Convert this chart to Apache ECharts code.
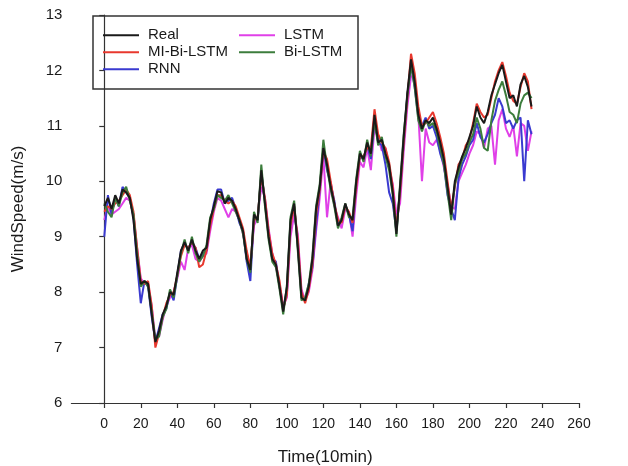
<!DOCTYPE html>
<html>
<head>
<meta charset="utf-8">
<script src="https://cdn.jsdelivr.net/npm/echarts@6/dist/echarts.min.js"></script>
<style>
html,body{margin:0;padding:0;background:#fff;}
#chart{width:628px;height:466px;}
</style>
</head>
<body>
<div id="chart"></div>
<script>
// Time steps (10 min units)
const time = [0,2,4,6,8,10,12,14,16,18,20,22,24,26,28,30,32,34,36,38,40,42,44,46,48,50,52,54,56,58,60,62,64,66,68,70,72,74,76,78,80,82,84,86,88,90,92,94,96,98,100,102,104,106,108,110,112,114,116,118,120,122,124,126,128,130,132,134,136,138,140,142,144,146,148,150,152,154,156,158,160,162,164,166,168,170,172,174,176,178,180,182,184,186,188,190,192,194,196,198,200,202,204,206,208,210,212,214,216,218,220,222,224,226,228,230,232,234];

const realVals = [9.55,9.70,9.50,9.75,9.60,9.85,9.80,9.70,9.30,8.60,8.15,8.20,8.15,7.60,7.10,7.30,7.60,7.75,8.00,7.95,8.35,8.75,8.90,8.75,8.95,8.75,8.60,8.75,8.80,9.30,9.55,9.82,9.80,9.60,9.70,9.65,9.50,9.30,9.10,8.60,8.40,9.40,9.30,10.20,9.60,9.00,8.60,8.50,8.10,7.65,8.10,9.30,9.60,8.80,7.90,7.85,8.10,8.60,9.50,9.90,10.60,10.30,9.90,9.60,9.20,9.30,9.60,9.40,9.30,10.00,10.50,10.40,10.70,10.50,11.20,10.70,10.75,10.50,10.30,9.80,9.05,9.90,10.80,11.60,12.20,11.80,11.20,10.95,11.10,11.05,11.15,10.95,10.70,10.40,9.90,9.40,10.00,10.25,10.45,10.60,10.80,11.00,11.35,11.15,11.05,11.25,11.55,11.75,11.95,12.10,11.80,11.50,11.55,11.35,11.75,11.90,11.70,11.35];

const miBiLstmVals = [9.45,9.55,9.50,9.60,9.65,9.75,9.85,9.75,9.45,8.80,8.20,8.15,8.20,7.75,7.00,7.25,7.55,7.80,7.95,8.00,8.30,8.65,8.85,8.80,8.90,8.80,8.45,8.50,8.75,9.20,9.50,9.75,9.75,9.65,9.60,9.65,9.55,9.35,9.15,8.75,8.45,9.30,9.35,10.10,9.70,9.10,8.70,8.50,8.20,7.70,7.95,9.20,9.55,8.95,8.00,7.80,8.05,8.50,9.40,9.85,10.55,10.40,10.00,9.60,9.30,9.25,9.55,9.45,9.25,9.90,10.45,10.45,10.60,10.60,11.30,10.85,10.70,10.60,10.35,9.90,9.15,9.80,10.70,11.50,12.30,11.95,11.35,11.00,11.05,11.15,11.25,11.05,10.80,10.50,10.00,9.50,9.90,10.30,10.40,10.65,10.75,11.05,11.40,11.25,11.15,11.20,11.50,11.80,12.00,12.15,11.90,11.60,11.45,11.40,11.70,11.95,11.80,11.30];

const rnnVals = [9.00,9.75,9.40,9.70,9.55,9.90,9.80,9.70,9.35,8.50,7.80,8.20,8.10,7.55,7.10,7.35,7.60,7.70,8.00,7.85,8.30,8.75,8.85,8.80,8.90,8.80,8.60,8.70,8.75,9.25,9.60,9.85,9.85,9.60,9.65,9.70,9.50,9.25,9.10,8.55,8.20,9.35,9.30,10.15,9.65,9.05,8.60,8.55,8.10,7.70,8.00,9.25,9.55,8.85,7.95,7.85,8.15,8.45,9.20,9.85,10.60,10.20,9.95,9.65,9.20,9.30,9.55,9.40,9.10,9.95,10.45,10.40,10.65,10.40,11.10,10.70,10.65,10.30,9.80,9.60,9.10,9.85,10.70,11.55,12.10,11.70,11.15,11.00,11.15,10.95,11.00,10.80,10.50,10.30,9.75,9.50,9.30,10.05,10.30,10.45,10.65,10.75,11.05,10.80,10.70,10.85,11.05,11.20,11.50,11.35,11.05,11.10,10.95,11.10,11.15,10.00,11.10,10.85];

const lstmVals = [9.30,9.55,9.40,9.45,9.50,9.60,9.70,9.65,9.40,8.80,8.25,8.15,8.15,7.75,7.15,7.20,7.50,7.75,7.90,8.00,8.25,8.55,8.40,8.80,8.85,8.60,8.55,8.65,8.70,9.10,9.45,9.70,9.65,9.50,9.35,9.50,9.45,9.30,9.05,8.70,8.45,9.20,9.35,9.90,9.70,9.15,8.70,8.45,8.15,7.75,7.90,9.00,9.40,9.05,8.05,7.85,8.00,8.40,9.10,9.70,10.45,9.35,10.00,9.55,9.35,9.15,9.50,9.45,9.00,9.75,10.35,10.25,10.60,10.20,10.95,10.80,10.55,10.60,10.25,9.95,9.40,9.60,10.55,11.35,11.90,11.85,11.20,10.00,10.95,10.70,10.65,10.75,10.55,10.25,9.95,9.55,9.50,10.00,10.15,10.30,10.50,10.65,10.90,10.85,10.60,10.95,11.00,10.30,11.10,11.30,10.95,10.80,11.00,10.45,11.05,11.00,10.55,10.90];

const biLstmVals = [9.60,9.45,9.35,9.70,9.55,9.80,9.90,9.65,9.40,8.70,8.10,8.20,8.10,7.65,7.15,7.20,7.55,7.70,8.05,7.90,8.30,8.70,8.95,8.70,9.00,8.70,8.55,8.65,8.85,9.35,9.50,9.75,9.70,9.65,9.75,9.60,9.45,9.30,9.05,8.60,8.35,9.45,9.25,10.30,9.55,8.95,8.55,8.45,8.05,7.60,8.10,9.35,9.65,8.75,7.85,7.90,8.15,8.65,9.55,9.95,10.75,10.25,9.85,9.55,9.15,9.35,9.60,9.35,9.35,10.05,10.55,10.35,10.75,10.45,11.10,10.65,10.80,10.45,10.20,9.75,9.00,9.95,10.85,11.55,12.10,11.70,11.10,10.90,11.10,11.00,11.05,10.90,10.60,10.30,9.80,9.30,9.95,10.15,10.40,10.50,10.70,10.85,11.15,10.95,10.60,10.55,11.10,11.45,11.65,11.80,11.55,11.25,11.20,11.05,11.40,11.55,11.60,11.50];

const xTicks = [0,20,40,60,80,100,120,140,160,180,200,220,240,260];

const colors = {'Real':'#1a1a1a','MI-Bi-LSTM':'#e8382e','RNN':'#3a3ad0','LSTM':'#e040e8','Bi-LSTM':'#3c7d3c'};
const seriesData = {'Real':realVals,'MI-Bi-LSTM':miBiLstmVals,'RNN':rnnVals,'LSTM':lstmVals,'Bi-LSTM':biLstmVals};
const drawOrder = ['LSTM','RNN','MI-Bi-LSTM','Bi-LSTM','Real'];
function pairs(vals){ return time.map((t,i)=>[t, vals[i]]); }

const FONT = "Arial, 'Liberation Sans', sans-serif";
const chart = echarts.init(document.getElementById('chart'), null, {renderer:'canvas'});
const legendText = {fontFamily:FONT, fontSize:15, color:'#1a1a1a', lineHeight:16.5, padding:[0,0,0,4]};
chart.setOption({
  animation:false,
  backgroundColor:'#fff',
  grid:{left:71.4, right:49, top:15, bottom:63, containLabel:false, outerBoundsMode:'none'},
  xAxis:{
    type:'value', min:-18, max:260,
    name:'Time(10min)', nameLocation:'middle', nameGap:46,
    nameTextStyle:{fontFamily:FONT, fontSize:17, color:'#1a1a1a'},
    axisLine:{show:true, onZero:false, lineStyle:{color:'#333', width:1.2}},
    axisTick:{show:true, length:5, customValues:xTicks, lineStyle:{color:'#333', width:1.2}},
    axisLabel:{customValues:xTicks, margin:14, fontFamily:FONT, fontSize:14, color:'#1a1a1a'},
    splitLine:{show:false}
  },
  yAxis:{
    type:'value', min:6, max:13, interval:1,
    name:'WindSpeed(m/s)', nameLocation:'middle', nameGap:45,
    nameTextStyle:{fontFamily:FONT, fontSize:17, color:'#1a1a1a'},
    axisLine:{show:true, lineStyle:{color:'#333', width:1.2}},
    axisTick:{show:true, length:5, lineStyle:{color:'#333', width:1.2}},
    axisLabel:{margin:9, fontFamily:FONT, fontSize:15, color:'#1a1a1a'},
    splitLine:{show:false}
  },
  legend:[
    {data:['Real','MI-Bi-LSTM','RNN'], orient:'vertical', left:103, top:27, padding:0, itemGap:0.5, icon:'rect', itemWidth:36, itemHeight:2, textStyle:legendText},
    {data:['LSTM','Bi-LSTM'], orient:'vertical', left:239, top:27, padding:0, itemGap:0.5, icon:'rect', itemWidth:36, itemHeight:2, textStyle:legendText}
  ],
  graphic:[{type:'rect', shape:{x:93, y:16, width:265, height:73}, style:{fill:'none', stroke:'#333', lineWidth:1.5}, z:10}],
  series: drawOrder.map(n=>({
    name:n, type:'line', data:pairs(seriesData[n]), symbol:'none', smooth:false,
    lineStyle:{color:colors[n], width:2}, itemStyle:{color:colors[n]}
  }))
});
</script>
</body>
</html>
